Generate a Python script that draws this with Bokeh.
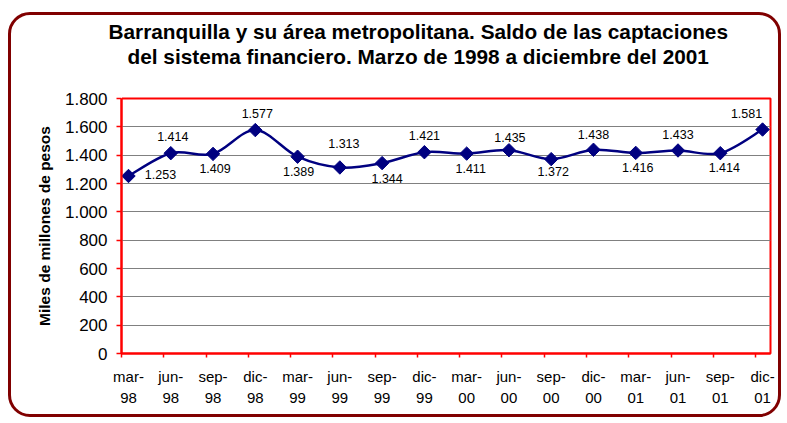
import math
from bokeh.plotting import figure
from bokeh.models import (Range1d, FixedTicker, LinearAxis, Title, ColumnDataSource,
                          CustomLabelingPolicy)
from bokeh.core.properties import value
from bokeh.embed import file_html
from bokeh.resources import INLINE

# ---------------- data ----------------
categories = ["mar-98", "jun-98", "sep-98", "dic-98",
              "mar-99", "jun-99", "sep-99", "dic-99",
              "mar-00", "jun-00", "sep-00", "dic-00",
              "mar-01", "jun-01", "sep-01", "dic-01"]
saldo = [1253, 1414, 1409, 1577, 1389, 1313, 1344, 1421,
         1411, 1435, 1372, 1438, 1416, 1433, 1414, 1581]
y_ticks = [0, 200, 400, 600, 800, 1000, 1200, 1400, 1600, 1800]
title_lines = ["Barranquilla y su área metropolitana. Saldo de las captaciones",
               "del sistema financiero. Marzo de 1998 a diciembre del 2001"]
y_title = "Miles de millones de pesos"

# ---------------- style ----------------
FONT = "Liberation Sans"
NAVY = "#000080"
RED = "#ff0000"
label_dx = [32, 2, 2, 2, 1, 4, 5, 0, 4, 1, 2, 0, 2, 0, 4, -16]
label_dy = [-1.5, -17, 15, -16.6, 14.5, -24, 15.5, -16.7, 15, -13, 12, -15, 15, -15.7, 14, -15.7]


def fmt(v):
    return f"{v:,}".replace(",", ".")


idx = list(range(len(categories)))
x_start = -0.1656

p = figure(width=773, height=405, output_backend="svg", toolbar_location=None,
           x_range=Range1d(x_start, 15.188), y_range=Range1d(0, 1800),
           x_axis_type=None,
           min_border_left=110, min_border_right=14,
           min_border_top=83, min_border_bottom=67)
p.styles = {"border": "3px solid #800000", "border-radius": "22px",
            "margin-top": "12px", "margin-left": "8px"}
p.background_fill_alpha = 0
p.border_fill_alpha = 0
p.outline_line_color = RED
p.outline_line_width = 2

# y axis
ya = p.yaxis[0]
ya.ticker = FixedTicker(ticks=y_ticks)
ya.major_label_overrides = {t: fmt(t) for t in y_ticks}
ya.axis_line_color = RED
ya.axis_line_width = 2
ya.major_tick_line_color = RED
ya.major_tick_line_width = 1.5
ya.major_tick_out = 5
ya.major_tick_in = 0
ya.minor_tick_line_color = None
ya.major_label_text_font = FONT
ya.major_label_text_font_size = "17px"
ya.major_label_text_color = "black"
ya.major_label_standoff = 9
ya.axis_label = y_title
ya.axis_label_text_font = FONT
ya.axis_label_text_font_size = "15.5px"
ya.axis_label_text_font_style = "bold"
ya.axis_label_text_color = "black"
ya.axis_label_standoff = 9

p.ygrid.grid_line_color = "#808080"
p.ygrid.grid_line_width = 1.2

# x axis: labels at the points, tick marks (minor) between categories
xa = LinearAxis(ticker=FixedTicker(ticks=idx, minor_ticks=[i + x_start for i in idx]),
                major_label_overrides={i: c.replace("-", "-\n") for i, c in zip(idx, categories)},
                axis_line_color=RED, axis_line_width=2,
                major_tick_line_color=None, major_tick_out=4, major_tick_in=0,
                minor_tick_line_color=RED, minor_tick_line_width=1.5,
                minor_tick_out=4, minor_tick_in=0,
                major_label_text_font=FONT, major_label_text_font_size="15px",
                major_label_text_color="black",
                major_label_text_line_height=1.25,
                major_label_standoff=10)
p.add_layout(xa, "below")

# smoothed line via bezier segments (Catmull-Rom style control points)
n = len(saldo)
x0, y0, x1, y1, cx0, cy0, cx1, cy1 = [], [], [], [], [], [], [], []
for i in range(n - 1):
    pm = i - 1 if i > 0 else i
    pp = i + 2 if i + 2 < n else i + 1
    x0.append(idx[i]); y0.append(saldo[i])
    x1.append(idx[i + 1]); y1.append(saldo[i + 1])
    cx0.append(idx[i] + (idx[i + 1] - idx[pm]) / 6)
    cy0.append(saldo[i] + (saldo[i + 1] - saldo[pm]) / 6)
    cx1.append(idx[i + 1] - (idx[pp] - idx[i]) / 6)
    cy1.append(saldo[i + 1] - (saldo[pp] - saldo[i]) / 6)
p.bezier(x0=x0, y0=y0, x1=x1, y1=y1, cx0=cx0, cy0=cy0, cx1=cx1, cy1=cy1,
         line_color=NAVY, line_width=2.5)

src = ColumnDataSource(dict(x=idx, y=saldo, label=[fmt(v) for v in saldo],
                            dx=label_dx, dy=label_dy))
p.scatter(x="x", y="y", source=src, marker="square", angle=math.pi / 4, size=9.5,
          fill_color=NAVY, line_color=NAVY)
p.text(x="x", y="y", text="label", source=src, x_offset="dx", y_offset="dy",
       text_align="center", text_baseline="middle",
       text_font=value(FONT), text_font_size="12.5px", text_color="black")

# blank spacer between the frame and the title lines: one white tick at the
# frame corner, no labels drawn
spacer = LinearAxis(ticker=FixedTicker(ticks=[x_start]), axis_line_color=None,
                    major_tick_line_color="white", major_tick_line_width=1,
                    major_tick_out=27, major_tick_in=0,
                    minor_tick_line_color=None, minor_tick_out=0,
                    major_label_text_font_size="1px", major_label_standoff=0,
                    major_label_policy=CustomLabelingPolicy(
                        code="for (const i of indices) indices.unset(i); return indices"))
p.add_layout(spacer, "above")

# titles
t2 = Title(text=title_lines[1], align="left", offset=6, standoff=0,
           text_font=FONT, text_font_size="20.8px", text_font_style="bold", text_color="black")
p.add_layout(t2, "above")
t1 = Title(text=title_lines[0], align="left", offset=-13, standoff=0,
           text_font=FONT, text_font_size="20.8px", text_font_style="bold", text_color="black")
p.add_layout(t1, "above")

open("out.html", "w").write(file_html(p, INLINE))
